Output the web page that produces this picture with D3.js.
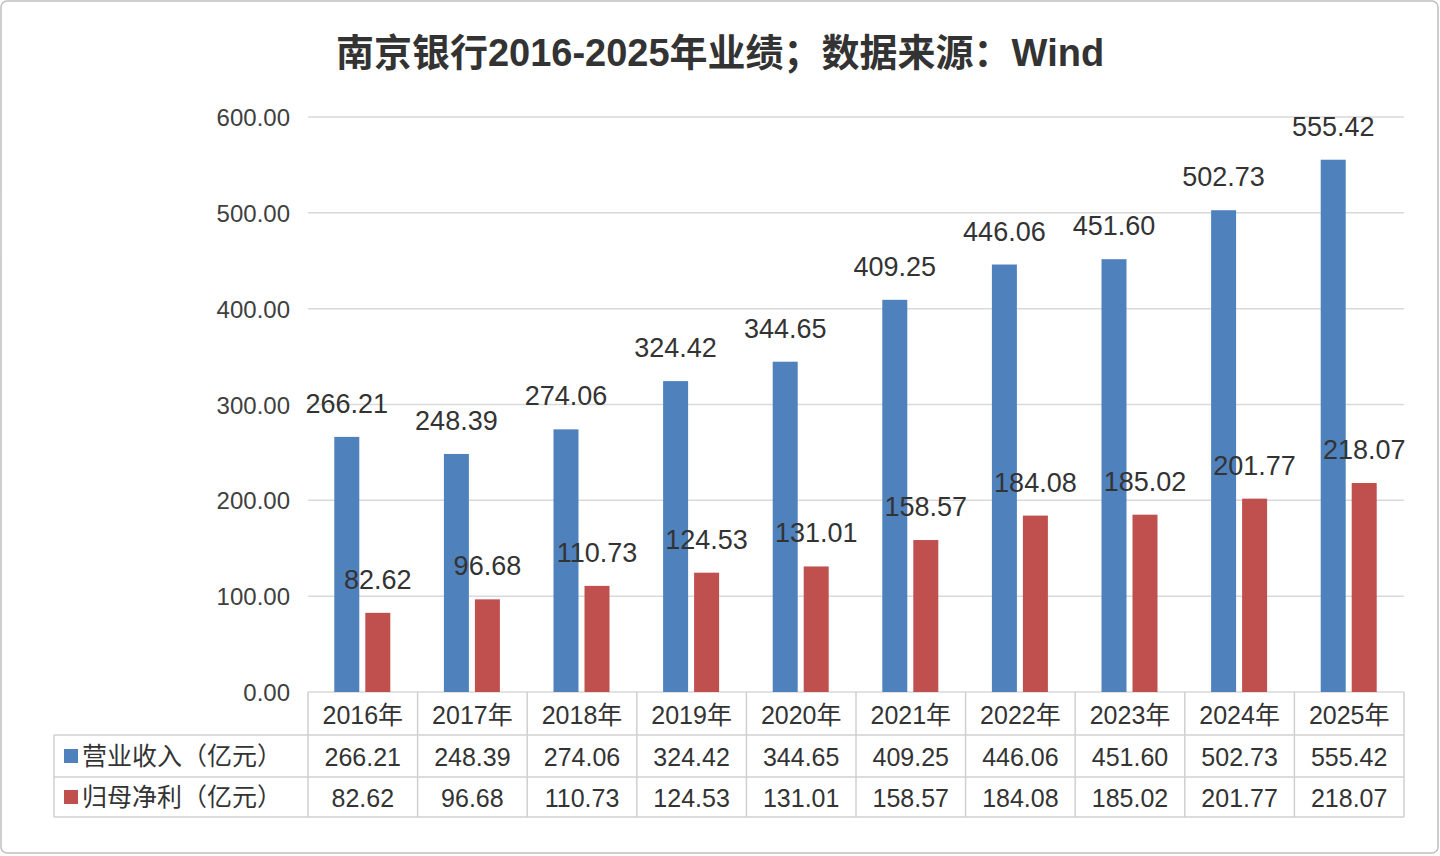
<!DOCTYPE html>
<html><head><meta charset="utf-8">
<script src="https://cdn.jsdelivr.net/npm/d3@7"></script>
<style>body{margin:0;background:#fff}svg{display:block}</style>
</head><body>
<svg id="c" width="1440" height="856"></svg>
<script>
var years = ["2016年","2017年","2018年","2019年","2020年","2021年","2022年","2023年","2024年","2025年"];
var revenue = [266.21,248.39,274.06,324.42,344.65,409.25,446.06,451.60,502.73,555.42];
var profit = [82.62,96.68,110.73,124.53,131.01,158.57,184.08,185.02,201.77,218.07];
var seriesNames = ["营业收入（亿元）","归母净利（亿元）"];
var colors = ["#4f81bd","#c0504d"];
var yTicks = [0,100,200,300,400,500,600];

var svg = d3.select("#c");
var font = "'Liberation Sans', 'Noto Sans CJK SC', sans-serif";
var plotL = 308, plotR = 1404, plotT = 117, plotB = 692;

svg.append("rect").attr("x",1).attr("y",1).attr("width",1437).attr("height",852)
  .attr("rx",6).attr("fill","#fff").attr("stroke","#bfbfbf").attr("stroke-width",1.5);

svg.append("text").attr("x",720).attr("y",66).attr("text-anchor","middle")
  .style("font-family",font).style("font-size","38px").style("font-weight","bold")
  .attr("fill","#333").text("南京银行2016-2025年业绩；数据来源：Wind");

var x = d3.scaleBand().domain(years).range([plotL,plotR]);
var y = d3.scaleLinear().domain([0,600]).range([plotB,plotT]);

// gridlines and y labels
svg.append("g").selectAll("line").data(yTicks).enter().append("line")
  .attr("x1",plotL).attr("x2",plotR).attr("y1",function(d){return y(d);}).attr("y2",function(d){return y(d);})
  .attr("stroke","#d9d9d9").attr("stroke-width",1.5);
svg.append("g").selectAll("text").data(yTicks).enter().append("text")
  .attr("x",290).attr("y",function(d){return y(d)+9;}).attr("text-anchor","end")
  .style("font-family",font).style("font-size","24px").attr("fill","#404040")
  .text(function(d){return d3.format(".2f")(d);});

var bw = 25, off = [-16, 15];
[revenue, profit].forEach(function(vals, s){
  var g = svg.append("g");
  g.selectAll("rect").data(vals).enter().append("rect")
    .attr("x",function(d,i){return x(years[i])+x.bandwidth()/2+off[s]-bw/2;})
    .attr("y",function(d){return y(d);})
    .attr("width",bw).attr("height",function(d){return plotB-y(d);})
    .attr("fill",colors[s]);
  g.selectAll("text").data(vals).enter().append("text")
    .attr("x",function(d,i){return x(years[i])+x.bandwidth()/2+off[s];})
    .attr("y",function(d){return y(d)-24;})
    .attr("text-anchor","middle")
    .style("font-family",font).style("font-size","27px").attr("fill","#333")
    .text(function(d){return d3.format(".2f")(d);});
});

// data table
var rowY = [692,735,777,817];
var tg = svg.append("g").attr("stroke","#d0d0d0").attr("stroke-width",1.5);
tg.append("line").attr("x1",54).attr("x2",plotR).attr("y1",rowY[1]).attr("y2",rowY[1]);
tg.append("line").attr("x1",54).attr("x2",plotR).attr("y1",rowY[2]).attr("y2",rowY[2]);
tg.append("line").attr("x1",54).attr("x2",plotR).attr("y1",rowY[3]).attr("y2",rowY[3]);
tg.append("line").attr("x1",54).attr("x2",54).attr("y1",rowY[1]).attr("y2",rowY[3]);
years.forEach(function(yr){
  tg.append("line").attr("x1",x(yr)).attr("x2",x(yr)).attr("y1",rowY[0]).attr("y2",rowY[3]);
});
tg.append("line").attr("x1",plotR).attr("x2",plotR).attr("y1",rowY[0]).attr("y2",rowY[3]);

function cell(txt, cx, cy){
  svg.append("text").attr("x",cx).attr("y",cy).attr("text-anchor","middle")
    .style("font-family",font).style("font-size","25px").attr("fill","#333").text(txt);
}
years.forEach(function(yr,i){
  var cx = x(yr)+x.bandwidth()/2;
  cell(yr, cx, 724);
  cell(d3.format(".2f")(revenue[i]), cx, 766);
  cell(d3.format(".2f")(profit[i]), cx, 807);
});
seriesNames.forEach(function(n,s){
  var cy = s===0 ? 756 : 797;
  svg.append("rect").attr("x",64).attr("y",cy-7).attr("width",14).attr("height",14).attr("fill",colors[s]);
  svg.append("text").attr("x",82).attr("y",cy+9).style("font-family",font).style("font-size","25px")
    .attr("fill","#333").text(n);
});
</script>
</body></html>
